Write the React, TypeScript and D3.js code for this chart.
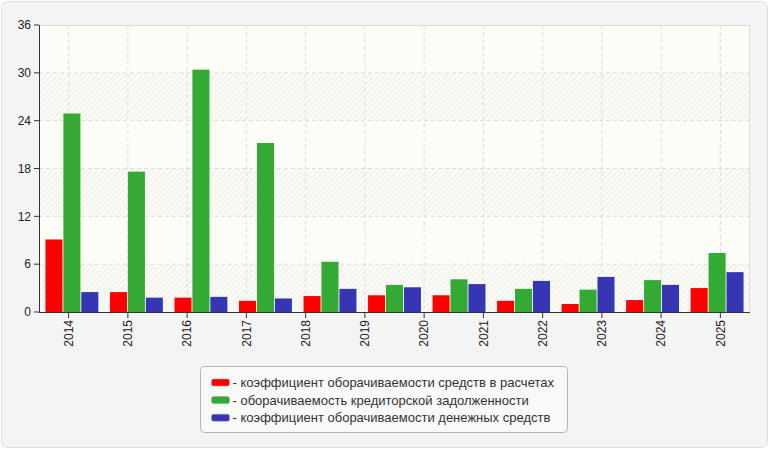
import React from "react";
import * as d3 from "d3";

const years = ["2014", "2015", "2016", "2017", "2018", "2019", "2020", "2021", "2022", "2023", "2024", "2025"];

const seriesNames = [
  "коэффициент оборачиваемости средств в расчетах",
  "оборачиваемость кредиторской задолженности",
  "коэффициент оборачиваемости денежных средств",
];
const seriesColors = ["#ff0000", "#33aa33", "#3636b4"];

// values as they are drawn (11 groups)
const receivables = [9.1, 2.5, 1.8, 1.4, 2.0, 2.1, 2.1, 1.4, 1.0, 1.5, 3.0];
const payables = [24.9, 17.6, 30.4, 21.2, 6.3, 3.4, 4.1, 2.9, 2.8, 4.0, 7.4];
const cash = [2.5, 1.8, 1.9, 1.7, 2.9, 3.1, 3.5, 3.9, 4.4, 3.4, 5.0];

const yTicks = [0, 6, 12, 18, 24, 30, 36];

const W = 770;
const H = 450;
const margin = { left: 39, top: 25, right: 20, bottom: 138 };
const innerW = W - margin.left - margin.right;
const innerH = H - margin.top - margin.bottom;

const font = "'Liberation Sans', Arial, sans-serif";

export default function App() {
  const series = [receivables, payables, cash];
  const groupIdx = d3.range(receivables.length);

  const y = d3.scaleLinear().domain([0, 36]).range([innerH, 0]);
  const xTick = d3.scaleBand<string>().domain(years).range([0, innerW]);
  const x0 = d3
    .scaleBand<number>()
    .domain(groupIdx)
    .range([0, innerW])
    .paddingInner(0.18)
    .paddingOuter(0.1);
  const x1 = d3
    .scaleBand<number>()
    .domain([0, 1, 2])
    .range([0, x0.bandwidth()])
    .paddingInner(0.05);

  // alternating stripes between grid lines
  const bands = d3.pairs(yTicks).filter((_, i) => i % 2 === 0);

  return (
    <svg
      width={W}
      height={H}
      style={{ position: "absolute", left: 0, top: 0 }}
      fontFamily={font}
    >
      <defs>
        <pattern id="hatch" width="4" height="4" patternUnits="userSpaceOnUse" patternTransform="rotate(45)">
          <rect width="4" height="4" fill="#fbfbf6" />
          <line x1="0" y1="0" x2="0" y2="4" stroke="#e9e9e5" strokeWidth="1.5" />
        </pattern>
      </defs>
      <rect x={1.5} y={1.5} width={W - 4} height={H - 4} rx={6} fill="#f4f4f4" stroke="#dedede" />

      <g transform={`translate(${margin.left},${margin.top})`}>
        <rect width={innerW} height={innerH} fill="#fdfdf7" />
        {bands.map(([a, b]) => (
          <rect key={a} x={0} y={y(b)} width={innerW} height={y(a) - y(b)} fill="url(#hatch)" />
        ))}

        {/* grid */}
        {yTicks.slice(1, -1).map((t) => (
          <line key={t} x1={0} x2={innerW} y1={y(t)} y2={y(t)} stroke="#dcdcdc" strokeDasharray="4,3" />
        ))}
        {years.map((yr) => {
          const cx = (xTick(yr) as number) + xTick.bandwidth() / 2;
          return (
            <line key={yr} x1={cx} x2={cx} y1={0} y2={innerH} stroke="#dcdcdc" strokeDasharray="4,3" />
          );
        })}
        <line x1={0} x2={innerW} y1={0.5} y2={0.5} stroke="#dcdcdc" />
        <line x1={innerW - 0.5} x2={innerW - 0.5} y1={0} y2={innerH} stroke="#dcdcdc" />

        {/* bars */}
        {groupIdx.map((g) => (
          <g key={g} transform={`translate(${x0(g)},0)`}>
            {series.map((vals, s) => (
              <rect
                key={s}
                x={x1(s)}
                y={y(vals[g])}
                width={x1.bandwidth()}
                height={innerH - y(vals[g])}
                fill={seriesColors[s]}
              />
            ))}
          </g>
        ))}

        {/* y axis */}
        <line x1={0.5} x2={0.5} y1={0} y2={innerH} stroke="#333" />
        {yTicks.map((t) => (
          <g key={t} transform={`translate(0,${y(t)})`}>
            <line x1={-5} x2={0} stroke="#333" />
            <text x={-8} dy="0.35em" textAnchor="end" fontSize={12} fill="#222">
              {t}
            </text>
          </g>
        ))}

        {/* x axis */}
        <line x1={0} x2={innerW} y1={innerH + 0.5} y2={innerH + 0.5} stroke="#333" />
        {years.map((yr) => {
          const cx = (xTick(yr) as number) + xTick.bandwidth() / 2;
          return (
            <g key={yr} transform={`translate(${cx},${innerH})`}>
              <line y1={0} y2={6} stroke="#333" />
              <text
                transform="rotate(-90)"
                x={-8}
                dy="0.35em"
                textAnchor="end"
                fontSize={12}
                fill="#222"
              >
                {yr}
              </text>
            </g>
          );
        })}
      </g>

      {/* legend */}
      <g transform="translate(200.5,366.5)">
        <rect width={367} height={66} rx={4} fill="#f9f9f9" stroke="#b4b4b4" />
        {seriesNames.map((name, i) => (
          <g key={name} transform={`translate(11,${16 + i * 17.6})`}>
            <rect x={0} y={-3.5} width={18} height={7} rx={2} fill={seriesColors[i]} stroke="#999" strokeWidth={0.5} />
            <text x={21} dy="0.35em" fontSize={13} fill="#333">
              {"- " + name}
            </text>
          </g>
        ))}
      </g>
    </svg>
  );
}
